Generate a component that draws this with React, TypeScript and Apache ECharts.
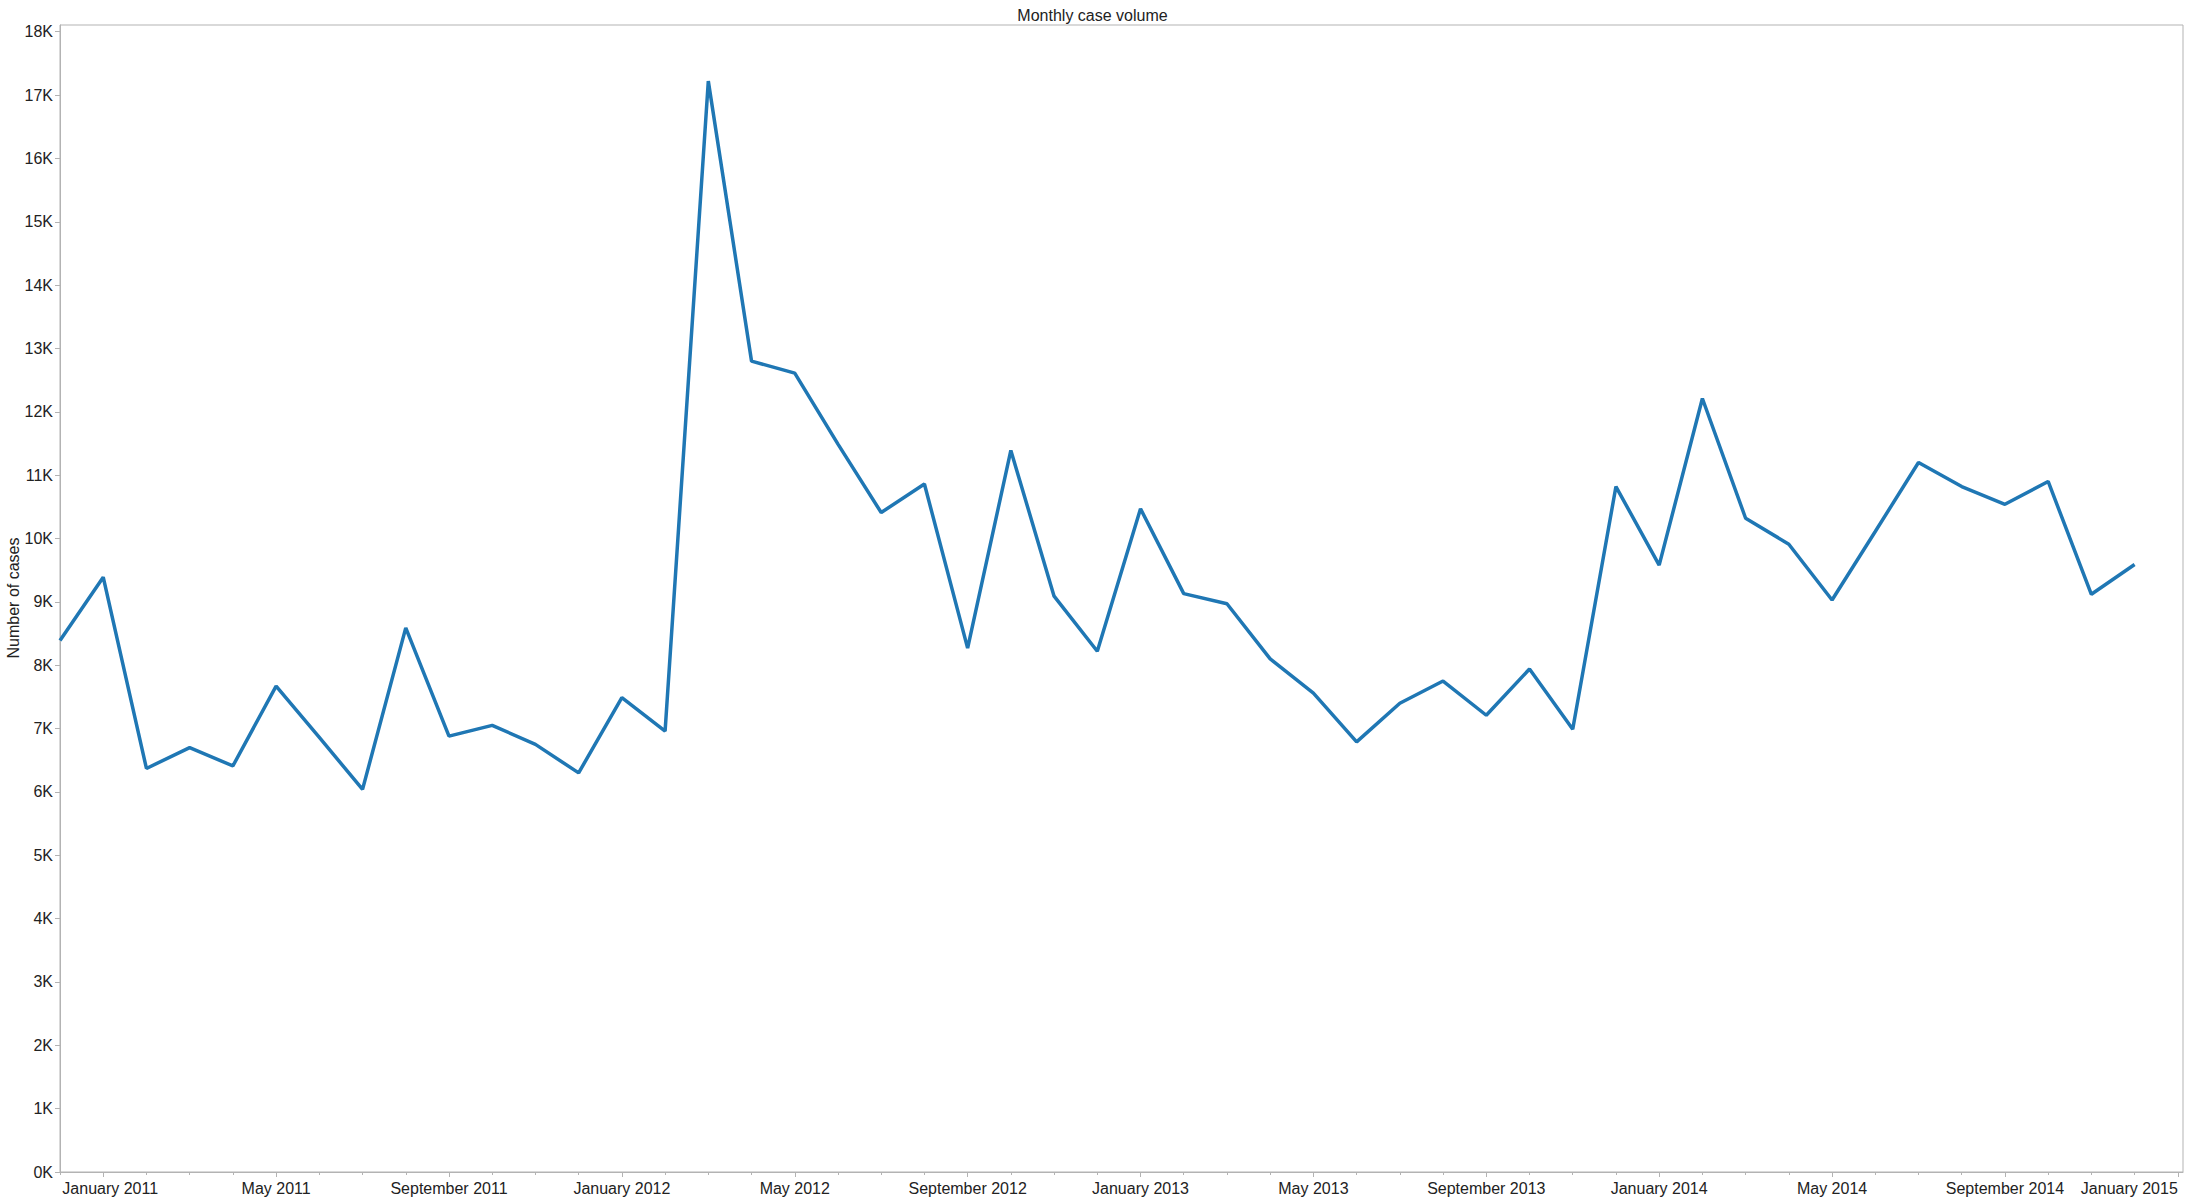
import React, { useEffect, useRef } from "react";
import * as echarts from "echarts";

// Months from December 2010 to December 2014 (index 0 = Dec 2010)
const months: string[] = [
  "2010-12",
  "2011-01", "2011-02", "2011-03", "2011-04", "2011-05", "2011-06",
  "2011-07", "2011-08", "2011-09", "2011-10", "2011-11", "2011-12",
  "2012-01", "2012-02", "2012-03", "2012-04", "2012-05", "2012-06",
  "2012-07", "2012-08", "2012-09", "2012-10", "2012-11", "2012-12",
  "2013-01", "2013-02", "2013-03", "2013-04", "2013-05", "2013-06",
  "2013-07", "2013-08", "2013-09", "2013-10", "2013-11", "2013-12",
  "2014-01", "2014-02", "2014-03", "2014-04", "2014-05", "2014-06",
  "2014-07", "2014-08", "2014-09", "2014-10", "2014-11", "2014-12",
];

const cases: number[] = [
  8390,
  9390, 6370, 6700, 6410, 7670, 6860, 6040, 8590, 6880, 7050, 6750, 6300,
  7490, 6960, 17220, 12800, 12610, 11490, 10410, 10860, 8270, 11390, 9090, 8220,
  10470, 9130, 8970, 8100, 7560, 6790, 7400, 7750, 7210, 7940, 6990, 10820,
  9580, 12210, 10320, 9910, 9030, 10110, 11200, 10820, 10540, 10900, 9120, 9590,
];

// Labelled x ticks (month index positions 1, 5, 9, ... 49)
const xTickIndex: number[] = [1, 5, 9, 13, 17, 21, 25, 29, 33, 37, 41, 45, 49];
const xTickLabels: string[] = [
  "January 2011", "May 2011", "September 2011",
  "January 2012", "May 2012", "September 2012",
  "January 2013", "May 2013", "September 2013",
  "January 2014", "May 2014", "September 2014",
  "January 2015",
];
const monthTickIndex: number[] = months.map((_, i) => i).concat([months.length]);

const yTicks: number[] = [
  0, 1000, 2000, 3000, 4000, 5000, 6000, 7000, 8000, 9000,
  10000, 11000, 12000, 13000, 14000, 15000, 16000, 17000, 18000,
];

const TITLE = "Monthly case volume";
const Y_NAME = "Number of cases";

const FONT = "'Liberation Sans', Arial, sans-serif";
const TEXT = "#222";
const AXIS = "#b3b3b3";
const LINE = "#1f77b4";

export default function App() {
  const ref = useRef<HTMLDivElement>(null);

  useEffect(() => {
    if (!ref.current) return;
    const chart = echarts.init(ref.current, null, { renderer: "svg" });
    const data = cases.map((v, i) => [i, v]);
    chart.setOption({
      animation: false,
      backgroundColor: "#fff",
      textStyle: { fontFamily: FONT },
      title: {
        text: TITLE,
        left: "center",
        top: 2,
        textStyle: { fontFamily: FONT, fontSize: 16, fontWeight: "normal", color: TEXT },
      },
      graphic: [
        {
          type: "text",
          x: 13,
          y: 598,
          rotation: Math.PI / 2,
          style: {
            text: Y_NAME,
            fontFamily: FONT,
            fontSize: 16,
            fill: TEXT,
            align: "center",
            verticalAlign: "middle",
          },
        },
      ],
      grid: {
        left: 60,
        right: 2,
        top: 25,
        bottom: 31,
        show: true,
        borderColor: AXIS,
        borderWidth: 1,
        containLabel: false,
        outerBoundsMode: "none",
      },
      xAxis: [
        {
          type: "value",
          min: 0,
          max: 49.12,
          splitLine: { show: false },
          axisLine: { show: true, lineStyle: { color: AXIS, width: 1 } },
          axisTick: {
            show: true,
            length: 5,
            lineStyle: { color: AXIS },
            customValues: xTickIndex,
          },
          axisLabel: {
            customValues: xTickIndex,
            fontSize: 16,
            fontFamily: FONT,
            color: TEXT,
            margin: 8,
            alignMaxLabel: "right",
            formatter: (v: number) => {
              const k = xTickIndex.indexOf(Math.round(v));
              if (k < 0) return "";
              if (k === 0) return "{first|" + xTickLabels[k] + "}";
              return xTickLabels[k];
            },
            rich: {
              first: {
                fontSize: 16,
                fontFamily: FONT,
                color: TEXT,
                padding: [0, 0, 0, 14],
              },
            },
          },
        },
        {
          type: "value",
          min: 0,
          max: 49.12,
          position: "bottom",
          splitLine: { show: false },
          axisLine: { show: false },
          axisTick: {
            show: true,
            length: 3,
            lineStyle: { color: AXIS },
            customValues: monthTickIndex,
          },
          axisLabel: { show: false },
        },
      ],
      yAxis: {
        type: "value",
        min: 0,
        max: 18106,
        splitLine: { show: false },
        axisLine: { show: true, lineStyle: { color: AXIS, width: 1 } },
        axisTick: {
          show: true,
          length: 5,
          lineStyle: { color: AXIS },
          customValues: yTicks,
        },
        axisLabel: {
          customValues: yTicks,
          fontSize: 16,
          fontFamily: FONT,
          color: TEXT,
          margin: 7,
          formatter: (v: number) => Math.round(v / 1000) + "K",
        },
      },
      series: [
        {
          type: "line",
          xAxisIndex: 0,
          data,
          symbol: "none",
          lineStyle: { color: LINE, width: 3.5 },
          itemStyle: { color: LINE },
        },
      ],
    });
    return () => chart.dispose();
  }, []);

  return (
    <div
      ref={ref}
      style={{ position: "fixed", left: 0, top: 0, width: 2185, height: 1203, background: "#fff" }}
    />
  );
}
